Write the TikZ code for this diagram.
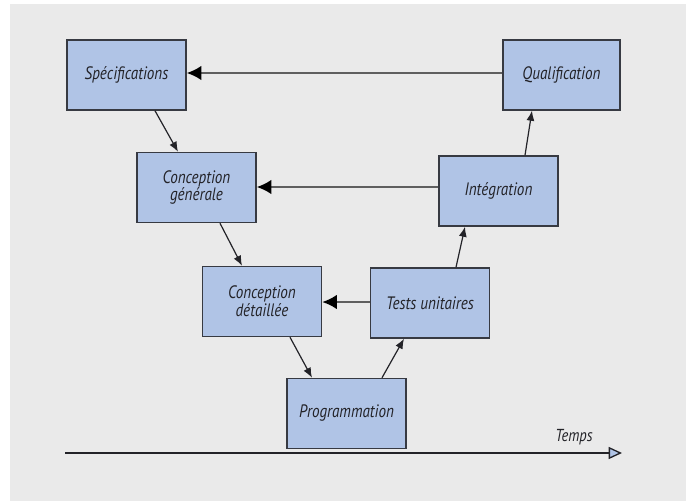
\documentclass[tikz,border=0pt]{standalone}
\usepackage{fontspec}
\setmainfont{PT Sans}[ItalicFeatures={FakeStretch=0.84}]
\usetikzlibrary{calc,arrows.meta}
\definecolor{boxfill}{RGB}{176,196,230}
\definecolor{boxline}{RGB}{55,58,66}
\definecolor{bggray}{RGB}{234,234,234}
\definecolor{linkgray}{RGB}{95,95,95}
\definecolor{inkgray}{RGB}{35,35,40}
\tikzset{
  phase/.style={draw=boxline, line width=1.1pt, fill=boxfill, minimum width=119*0.75pt,
    minimum height=70*0.75pt, inner sep=2pt, align=center,
    font=\itshape\fontsize{13.5}{12}\selectfont, text=inkgray},
  descent/.style={draw=inkgray, line width=0.9pt, -{Latex[length=7.5pt,width=6pt]}},
  feedback/.style={draw=linkgray, line width=1.6pt, -{Latex[length=11pt,width=11pt,color=black]}},
  timeline/.style={draw=inkgray, line width=1.2pt,
    -{Triangle[length=10pt,width=9pt,fill=boxfill,color=inkgray,line width=1pt]}},
}
\begin{document}
\begin{tikzpicture}[x=0.75pt,y=-0.75pt]
  \useasboundingbox (0,0) rectangle (686,501);
  \fill[bggray] (10,4) rectangle (686,501);

  % the phases of the V cycle
  \node[phase] (spec)  at (126.5,75)  {Spécifications};
  \node[phase, minimum width=117*0.75pt] (qual) at (561.5,75) {Qualification};
  \node[phase] (cg)    at (196.5,187.5) {Conception\\générale};
  \node[phase] (integ) at (498.5,191) {Intégration};
  \node[phase] (cd)    at (262,301.5) {Conception\\détaillée};
  \node[phase] (tu)    at (430,303)   {Tests unitaires};
  \node[phase] (prog)  at (346.5,413.5) {Programmation};

  % descending branch
  \draw[descent] ($(spec.south)+(28.5,0)$) -- ($(cg.north)+(-18.5,0)$);
  \draw[descent] ($(cg.south)+(23.5,0)$) -- ($(cd.north)+(-20,0)$);
  \draw[descent] ($(cd.south)+(28,0)$) -- ($(prog.north)+(-34.5,0)$);
  % ascending branch
  \draw[descent] ($(prog.north)+(35.5,0)$) -- ($(tu.south)+(-26,0)$);
  \draw[descent] ($(tu.north)+(26,0)$) -- ($(integ.south)+(-33.5,0)$);
  \draw[descent] ($(integ.north)+(26.5,0)$) -- ($(qual.south)+(-29.5,0)$);

  % feedback links between matching levels
  \draw[feedback] (qual.west |- 0,73) -- (spec.east |- 0,73);
  \draw[feedback] (integ.west |- 0,187) -- (cg.east |- 0,187);
  \draw[feedback] (tu.west |- 0,302) -- (cd.east |- 0,302);

  % time axis
  \coordinate (t0) at (65,453);
  \coordinate (t1) at (622,453);
  \draw[timeline] (t0) -- (t1);
  \node[font=\itshape\fontsize{13}{13}\selectfont, text=inkgray] (temps) at (574,437) {Temps};
\end{tikzpicture}
\end{document}
